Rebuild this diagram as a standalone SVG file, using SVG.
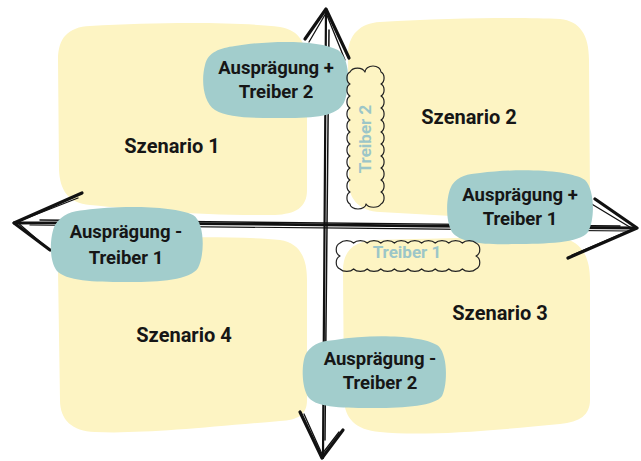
<svg xmlns="http://www.w3.org/2000/svg" width="641" height="461" viewBox="0 0 641 461">
  <style>
    .quad { fill: #fdf4c3; }
    .bubble { fill: #a2cdcc; }
    .label { font-family: Roboto, "Liberation Sans", sans-serif; font-weight: 700; font-size: 18.5px; fill: #161616; text-anchor: middle; }
    .scenario { font-size: 20px; }
    .driver { font-family: Roboto, "Liberation Sans", sans-serif; font-weight: 700; font-size: 17px; fill: #9cc6c8; text-anchor: middle; }
    .axis { fill: none; stroke: #111; stroke-linecap: round; stroke-linejoin: round; }
    .cloud { fill: none; stroke: #222; stroke-width: 1.2; stroke-linejoin: round; }
  </style>

  <!-- scenario quadrants -->
  <g id="szenario-1">
    <path class="quad" d="M90,26 C160,22 240,22 280,27 C300,30 307,45 307,65 L307,190 C307,208 295,214 275,215 C200,216 140,210 90,205 C68,203 60,190 59,170 L58,60 C58,38 68,27 90,26 Z"/>
    <text class="label scenario" x="172" y="153">Szenario 1</text>
  </g>
  <g id="szenario-2">
    <path class="quad" d="M380,22 C450,18 520,17 560,19 C580,21 589,35 589,60 L590,200 C590,215 580,222 560,222 L380,212 C360,211 350,200 349,185 L348,55 C348,35 360,23 380,22 Z"/>
    <text class="label scenario" x="469" y="124">Szenario 2</text>
  </g>
  <g id="szenario-3">
    <path class="quad" d="M375,240 C450,238 520,236 560,238 C580,240 590,255 590,280 L590,400 C590,415 580,422 560,424 C480,432 420,436 380,432 C355,430 345,418 344,400 L343,270 C343,250 355,241 375,240 Z"/>
    <text class="label scenario" x="500" y="320">Szenario 3</text>
  </g>
  <g id="szenario-4">
    <path class="quad" d="M90,240 C160,237 240,236 280,240 C300,243 307,258 307,280 L307,400 C307,415 298,420 280,421 C200,428 140,434 95,432 C72,431 60,420 60,400 L58,270 C58,250 70,241 90,240 Z"/>
    <text class="label scenario" x="184" y="342">Szenario 4</text>
  </g>

  <!-- hand-drawn axes -->
  <g id="connectors">
    <g id="axis-treiber-1">
      <path class="axis" stroke-width="2.8" d="M14,223 C150,222 300,225 636,228"/>
      <path class="axis" stroke-width="1.4" d="M40,220 C200,221 400,225 620,226"/>
      <path class="axis" stroke-width="1.2" d="M30,225 C200,227 450,229 630,231"/>
      <path class="axis" stroke-width="3.2" d="M82,193 L14,223 L50,250"/>
      <path class="axis" stroke-width="1.3" d="M78,198 L17,222 L46,247"/>
      <path class="axis" stroke-width="3.2" d="M595,199 L637,228 L568,258"/>
      <path class="axis" stroke-width="1.3" d="M590,203 L633,229 L572,255"/>
    </g>
    <g id="axis-treiber-2">
      <path class="axis" stroke-width="2.2" d="M326,9 L323,458"/>
      <path class="axis" stroke-width="1.5" d="M329,30 C328,150 326,300 325,440"/>
      <path class="axis" stroke-width="3.2" d="M305,39 L326,9 L349,58"/>
      <path class="axis" stroke-width="1.3" d="M309,42 L326,13 L345,60"/>
      <path class="axis" stroke-width="3.2" d="M300,412 L322,458 L343,430"/>
      <path class="axis" stroke-width="1.3" d="M304,414 L322,454 L339,432"/>
    </g>
  </g>

  <!-- pole bubbles -->
  <g id="auspraegung-plus-treiber-2">
    <path class="bubble" d="M235,46 C270,40 320,40 338,50 C350,58 350,85 345,100 C340,115 320,118 290,118 C260,118 230,119 215,110 C203,102 201,80 205,65 C208,52 220,48 235,46 Z"/>
    <text class="label" x="276" y="74">Ausprägung +</text>
    <text class="label" x="276" y="98">Treiber 2</text>
  </g>
  <g id="auspraegung-plus-treiber-1">
    <path class="bubble" d="M480,173 C520,168 570,170 585,180 C595,190 595,220 588,232 C580,243 545,244 515,244 C485,245 460,243 452,232 C445,220 446,195 452,185 C458,176 468,174 480,173 Z"/>
    <text class="label" x="520" y="201">Ausprägung +</text>
    <text class="label" x="520" y="225">Treiber 1</text>
  </g>
  <g id="auspraegung-minus-treiber-1">
    <path class="bubble" d="M85,210 C120,205 175,206 193,215 C205,222 205,255 198,268 C190,280 160,282 130,282 C100,282 70,282 58,272 C48,262 50,235 55,225 C62,214 72,211 85,210 Z"/>
    <text class="label" x="126" y="238">Ausprägung -</text>
    <text class="label" x="126" y="264">Treiber 1</text>
  </g>
  <g id="auspraegung-minus-treiber-2">
    <path class="bubble" d="M335,340 C370,334 420,335 437,345 C448,352 448,385 442,396 C435,406 405,408 375,408 C345,408 318,408 309,398 C301,388 301,360 307,352 C314,343 322,341 335,340 Z"/>
    <text class="label" x="380" y="365">Ausprägung -</text>
    <text class="label" x="380" y="389">Treiber 2</text>
  </g>

  <!-- driver name clouds -->
  <g id="treiber-2">
    <path class="cloud" d="M350,72 a8,6 0 0 1 15,0 a8,6 0 0 1 16,0 a5,6.5 0 0 1 0,12 a5,6.5 0 0 1 0,12 a5,6.5 0 0 1 0,12 a5,6.5 0 0 1 0,12 a5,6.5 0 0 1 0,12 a5,6.5 0 0 1 0,12 a5,6.5 0 0 1 0,12 a5,6.5 0 0 1 0,12 a5,6.5 0 0 1 0,12 a5,6.5 0 0 1 0,12 a5,6.5 0 0 1 0,12 a8,5 0 0 1 -15,0 a8,5 0 0 1 -16,0 a5,6.5 0 0 1 0,-12 a5,6.5 0 0 1 0,-12 a5,6.5 0 0 1 0,-12 a5,6.5 0 0 1 0,-12 a5,6.5 0 0 1 0,-12 a5,6.5 0 0 1 0,-12 a5,6.5 0 0 1 0,-12 a5,6.5 0 0 1 0,-12 a5,6.5 0 0 1 0,-12 a5,6.5 0 0 1 0,-12 a5,6.5 0 0 1 0,-12 Z"/>
    <text class="driver" transform="rotate(-90 371 139)" x="371" y="139">Treiber 2</text>
  </g>
  <g id="treiber-1">
    <path class="cloud" d="M340,243 a8,5 0 0 1 13.6,0 a8,5 0 0 1 13.6,0 a8,5 0 0 1 13.6,0 a8,5 0 0 1 13.6,0 a8,5 0 0 1 13.6,0 a8,5 0 0 1 13.6,0 a8,5 0 0 1 13.6,0 a8,5 0 0 1 13.6,0 a8,5 0 0 1 13.6,0 a8,5 0 0 1 13.6,0 a6,7 0 0 1 0,13 a6,7 0 0 1 0,13 a8,5 0 0 1 -13.6,0 a8,5 0 0 1 -13.6,0 a8,5 0 0 1 -13.6,0 a8,5 0 0 1 -13.6,0 a8,5 0 0 1 -13.6,0 a8,5 0 0 1 -13.6,0 a8,5 0 0 1 -13.6,0 a8,5 0 0 1 -13.6,0 a8,5 0 0 1 -13.6,0 a8,5 0 0 1 -13.6,0 a6,7 0 0 1 0,-13 a6,7 0 0 1 0,-13 Z"/>
    <text class="driver" x="407" y="258">Treiber 1</text>
  </g>
</svg>
